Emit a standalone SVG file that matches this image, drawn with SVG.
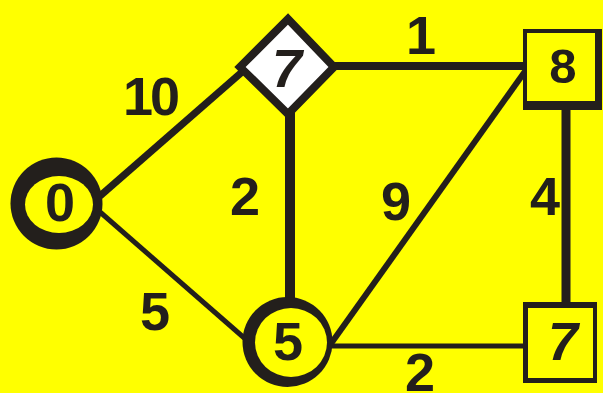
<svg xmlns="http://www.w3.org/2000/svg" width="603" height="393" viewBox="0 0 603 393">
<style>
.ink{fill:#231f1c}
.bg{fill:#ffff00}
.e{stroke:#231f1c;fill:none;stroke-linecap:butt}
.t{font-family:"Liberation Sans",Arial,sans-serif;font-weight:bold;font-size:54px;fill:#231f1c;text-anchor:middle}
.i{font-style:italic}
</style>
<rect width="603" height="393" class="bg"/>
<g id="connectors">
<line class="e" x1="100" y1="196" x2="242" y2="72" stroke-width="7"/>
<line class="e" x1="100" y1="212" x2="250" y2="343" stroke-width="5"/>
<line class="e" x1="333" y1="66" x2="526" y2="66" stroke-width="8"/>
<line class="e" x1="290" y1="110" x2="290" y2="300" stroke-width="10"/>
<line class="e" x1="566" y1="105" x2="566" y2="305" stroke-width="9"/>
<line class="e" x1="526" y1="70" x2="330" y2="345" stroke-width="6"/>
<line class="e" x1="330" y1="346" x2="525" y2="346" stroke-width="5"/>
<text class="t" x="150" y="115" letter-spacing="-3">10</text>
<text class="t" x="421" y="54">1</text>
<text class="t" x="245" y="215">2</text>
<text class="t" x="396" y="220">9</text>
<text class="t" x="545" y="215">4</text>
<text class="t" x="155" y="330">5</text>
<text class="t" x="420" y="391">2</text>
</g>
<g id="node-0">
<circle class="ink" cx="56.5" cy="203.5" r="46"/>
<ellipse class="bg" cx="59" cy="204.5" rx="34" ry="28.5"/>
<text class="t" x="60" y="221">0</text>
</g>
<g id="node-7a">
<polygon points="288,19 334,67 288,114 240,67" fill="#ffffff" stroke="#231f1c" stroke-width="8" stroke-linejoin="miter"/>
<text class="t i" x="287" y="87">7</text>
</g>
<g id="node-8">
<rect class="ink" x="523" y="29" width="79" height="81"/>
<rect class="bg" x="527" y="33" width="68" height="68"/>
<text class="t" x="563" y="83" style="font-size:49px">8</text>
</g>
<g id="node-5">
<circle class="ink" cx="287.5" cy="342" r="45"/>
<ellipse class="bg" cx="291" cy="342.5" rx="36" ry="34.5"/>
<text class="t" x="288" y="360">5</text>
</g>
<g id="node-7b">
<rect class="ink" x="523" y="302" width="74" height="81"/>
<rect class="bg" x="528" y="308" width="65" height="70"/>
<text class="t i" x="563" y="360">7</text>
</g>
</svg>
